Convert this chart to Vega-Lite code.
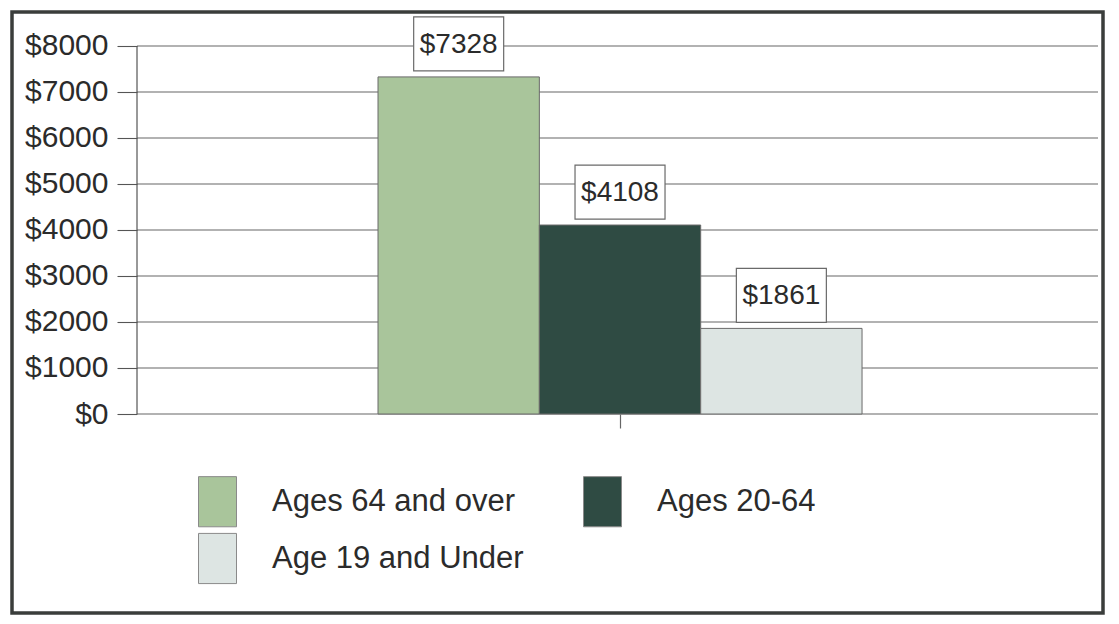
{
  "$schema": "https://vega.github.io/schema/vega-lite/v6.json",
  "autosize": "none",
  "width": 1091,
  "height": 601,
  "padding": {"left": 12, "top": 12, "right": 16, "bottom": 11},
  "background": "white",
  "config": {
    "view": {"stroke": "#3a3d3b", "strokeWidth": 3.5, "fill": "white"},
    "font": "Liberation Sans",
    "text": {"font": "Liberation Sans"}
  },
  "layer": [
    {
      "data": {"values": [{"v": 0}, {"v": 1000}, {"v": 2000}, {"v": 3000}, {"v": 4000}, {"v": 5000}, {"v": 6000}, {"v": 7000}, {"v": 8000}]},
      "mark": {"type": "rule", "stroke": "#666666", "strokeWidth": 1.1},
      "encoding": {
        "x": {"datum": "All", "bandPosition": -0.4979, "type": "nominal"},
        "x2": {"datum": "All", "bandPosition": 1.4876},
        "y": {"field": "v", "type": "quantitative"}
      }
    },
    {
      "data": {"values": [{"lo": 0, "hi": 8000}]},
      "mark": {"type": "rule", "stroke": "#555555", "strokeWidth": 1.2},
      "encoding": {
        "x": {"datum": "All", "bandPosition": -0.4979, "type": "nominal"},
        "y": {"field": "lo", "type": "quantitative"},
        "y2": {"field": "hi"}
      }
    },
    {
      "data": {"values": [
        {"cat": "All", "group": "Ages 64 and over", "cost": 7328},
        {"cat": "All", "group": "Ages 20-64", "cost": 4108},
        {"cat": "All", "group": "Age 19 and Under", "cost": 1861}
      ]},
      "layer": [
        {
          "mark": {"type": "bar", "stroke": "#6a6a6a", "strokeWidth": 1},
          "encoding": {
            "x": {
              "field": "cat", "type": "nominal",
              "scale": {"domain": ["All"], "paddingInner": 0, "paddingOuter": 0.627, "align": 0.603},
              "axis": {"orient": "bottom", "offset": -199, "labels": false, "domain": false, "grid": false, "ticks": true, "tickSize": 14, "tickColor": "#666666", "tickWidth": 1.2, "title": null}
            },
            "xOffset": {
              "field": "group", "type": "nominal",
              "scale": {"domain": ["Ages 64 and over", "Ages 20-64", "Age 19 and Under"], "paddingInner": 0, "paddingOuter": 0}
            },
            "y": {
              "field": "cost", "type": "quantitative",
              "scale": {"domain": [-4326, 8739], "nice": false, "zero": false},
              "axis": {"orient": "left", "offset": -125, "values": [0, 1000, 2000, 3000, 4000, 5000, 6000, 7000, 8000], "format": "$d", "domain": false, "grid": false, "ticks": true, "tickSize": 20, "tickColor": "#555555", "tickWidth": 1.1, "labelPadding": 9, "labelFontSize": 30, "labelFont": "Liberation Sans", "labelColor": "#2b2b2b", "title": null}
            },
            "y2": {"datum": 0},
            "color": {
              "field": "group", "type": "nominal",
              "scale": {"domain": ["Ages 64 and over", "Age 19 and Under", "Ages 20-64"], "range": ["#a9c59b", "#dde5e3", "#2f4b43"]},
              "legend": {
                "orient": "none", "legendX": 186, "legendY": 470, "columns": 2, "title": null,
                "symbolType": "M-1,-1.32H1V1.32H-1Z", "symbolSize": 1444, "symbolStrokeColor": "#8a8a8a", "symbolStrokeWidth": 1, "symbolOpacity": 1,
                "labelFontSize": 31, "labelFont": "Liberation Sans", "labelColor": "#2b2b2b", "labelOffset": 35, "labelLimit": 500,
                "columnPadding": 57, "rowPadding": 2, "padding": 0
              }
            }
          }
        },
        {
          "mark": {"type": "point", "shape": "M-45,-27H45V27H-45Z", "size": 4, "filled": true, "fill": "white", "stroke": "#6a6a6a", "strokeWidth": 1.2, "opacity": 1, "yOffset": -33},
          "encoding": {
            "x": {"field": "cat", "type": "nominal"},
            "xOffset": {"field": "group", "type": "nominal"},
            "y": {"field": "cost", "type": "quantitative"}
          }
        },
        {
          "mark": {"type": "text", "fontSize": 28, "font": "Liberation Sans", "color": "#2b2b2b", "baseline": "middle", "align": "center", "yOffset": -32},
          "encoding": {
            "x": {"field": "cat", "type": "nominal"},
            "xOffset": {"field": "group", "type": "nominal"},
            "y": {"field": "cost", "type": "quantitative"},
            "text": {"field": "cost", "type": "quantitative", "format": "$d"}
          }
        }
      ]
    }
  ]
}
